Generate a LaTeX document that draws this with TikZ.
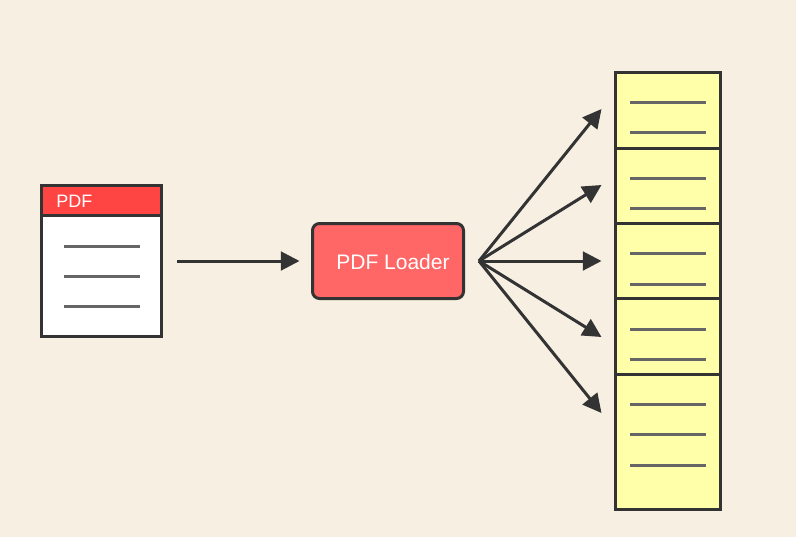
\documentclass[tikz,border=0pt]{standalone}
\usepackage{fontspec}
\setmainfont{Liberation Sans}
\usetikzlibrary{arrows.meta}
\definecolor{paper}{HTML}{F7EFE2}
\definecolor{ink}{HTML}{333333}
\definecolor{rule}{HTML}{666666}
\definecolor{headred}{HTML}{FF4444}
\definecolor{loaderred}{HTML}{FF6666}
\definecolor{chunkyellow}{HTML}{FFFFAA}
\tikzset{sheet/.style={draw=ink, line width=2.25pt, outer sep=0pt, inner sep=0pt}}
\tikzset{whitetext/.style={text=white, inner sep=0pt}}
\tikzset{textline/.style={draw=rule, line width=2.25pt}}
\tikzset{arr/.style={draw=ink, line width=2.25pt, -{Triangle[length=14pt,width=14pt]}}}
\begin{document}
\begin{tikzpicture}[x=0.75pt,y=-0.75pt]
	\fill[paper] (0,0) rectangle (796,537);
	\useasboundingbox (0,0) rectangle (796,537);
	% document on the left
	\node[sheet, fill=white, minimum width=90pt, minimum height=90.75pt] (doc) at (101.5,276) {};
	\node[sheet, fill=headred, minimum width=90pt, minimum height=22.5pt] (head) at (101.5,200.5) {};
	\node[whitetext, anchor=west, font=\fontsize{13.5}{16}\selectfont] (headtext) at (56,201.5) {PDF};
	\foreach \y in {246,276,306}
		\draw[textline] (64,\y) -- ++(76,0);
	% loader
	\node[sheet, fill=loaderred, rounded corners=5.25pt, minimum width=113.25pt, minimum height=56.25pt] (loader) at (388,261) {};
	\node[whitetext, font=\fontsize{15.75}{18}\selectfont] (loadertext) at (393,261.5) {PDF Loader};
	% stack of chunks
	\foreach \i/\cy/\h in {1/110.5/76,2/186/75,3/261/75,4/336.5/76,5/442/135}
		\node[sheet, fill=chunkyellow, minimum width=78.75pt, minimum height=\h*0.75pt] (chunk\i) at (668,\cy) {};
	\foreach \y in {102.5,132.5,178,208.5,253.5,284,329,359,404.5,434.5,465}
		\draw[textline] (630,\y) -- ++(76,0);
	% arrows
	\coordinate (docout) at (177,261);
	\coordinate (loaderin) at (299.5,261);
	\draw[arr] (docout) -- (loaderin);
	\coordinate (fan) at (479,261);
	\foreach \i/\y in {1/109,2/185,3/261,4/337,5/413}{
		\coordinate (tip\i) at (601.5,\y);
		\draw[arr] (fan) -- (tip\i);
	}
\end{tikzpicture}
\end{document}
